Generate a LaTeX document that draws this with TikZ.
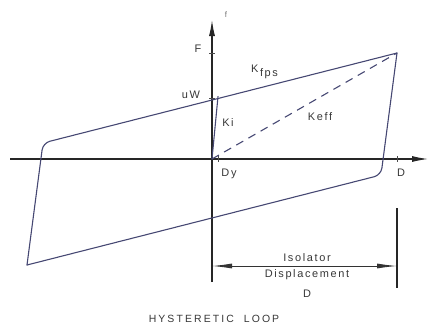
\documentclass[tikz,border=0pt]{standalone}
\usepackage{fontspec}
\setmainfont{Liberation Sans}
\usetikzlibrary{arrows.meta}
\definecolor{loopc}{RGB}{70,72,115}
\definecolor{txtc}{RGB}{55,55,55}
\tikzset{
  axisline/.style={draw=black!85, line width=1.1bp},
  loopline/.style={draw=loopc, line width=1.1bp, line cap=round, line join=round},
  effline/.style={draw=loopc, line width=1.1bp, dash pattern=on 8bp off 6bp},
  tickline/.style={draw=black!70, line width=0.8bp},
  lbl/.style={font=\fontsize{11}{12}\selectfont\addfontfeature{LetterSpace=15}, text=txtc, inner sep=0pt},
  axtip/.style={-{Latex[length=16bp,width=6bp]}},
  dimtip/.style={{Latex[length=20bp,width=5bp]}-{Latex[length=20bp,width=5bp]}}
}
\begin{document}
\begin{tikzpicture}[x=1bp,y=-1bp]
\useasboundingbox (0,0) rectangle (430,335);
% coordinates
\coordinate (O) at (212,159);
\coordinate (xs) at (10,159);
\coordinate (xe) at (428,159);
\coordinate (ys) at (212,282);
\coordinate (ye) at (212,20);
\coordinate (peak) at (397,53);
\coordinate (br) at (381,175);
\coordinate (bl) at (27,265);
\coordinate (ul) at (43,143);
\coordinate (kiend) at (218,96.5);
\coordinate (extT) at (397,208);
\coordinate (extB) at (397,288);
\coordinate (dimL) at (212,266);
\coordinate (dimR) at (397,266);
% axes
\draw[axisline, axtip] (xs) -- (xe);
\draw[axisline, axtip] (ys) -- (ye);
% ticks
\draw[tickline] (209,53) -- (215,53);
\draw[tickline] (209,98) -- (215,98);
\draw[tickline] (397,156) -- (397,162);
\draw[tickline] (218,156) -- (218,162);
% hysteretic loop
\draw[loopline, rounded corners=7bp] (peak) -- (br) -- (bl);
\draw[loopline, rounded corners=7bp] (bl) -- (ul) -- (peak);
% initial stiffness
\draw[loopline] (O) -- (kiend);
% effective stiffness
\draw[effline] (O) -- (peak);
% dimension
\draw[axisline] (extT) -- (extB);
\draw[line width=0.9bp, draw=black!80, dimtip] (dimL) -- (dimR);
% labels
\node[lbl, font=\fontsize{8}{9}\selectfont, text=black!55] (flab) at (226,15) {f};
\node[lbl] (Flab) at (198,49) {F};
\node[lbl] (uWlab) at (191,95) {uW};
\node[lbl] (Kilab) at (228,123) {Ki};
\node[lbl, anchor=base west] (Kfpslab) at (251,72) {K\kern1.5bp\raisebox{-4bp}{fps}};
\node[lbl] (Kefflab) at (320,117) {Keff};
\node[lbl] (Dylab) at (229,174) {Dy};
\node[lbl] (Dlab) at (401,173) {D};
\node[lbl] (iso1) at (307,258) {Isolator};
\node[lbl] (iso2) at (307,275) {Displacement};
\node[lbl] (iso3) at (307,294) {D};
\node[lbl, font=\fontsize{10.5}{12}\selectfont\addfontfeature{LetterSpace=20}] (title) at (214,319) {HYSTERETIC\ \ LOOP};
\end{tikzpicture}
\end{document}
